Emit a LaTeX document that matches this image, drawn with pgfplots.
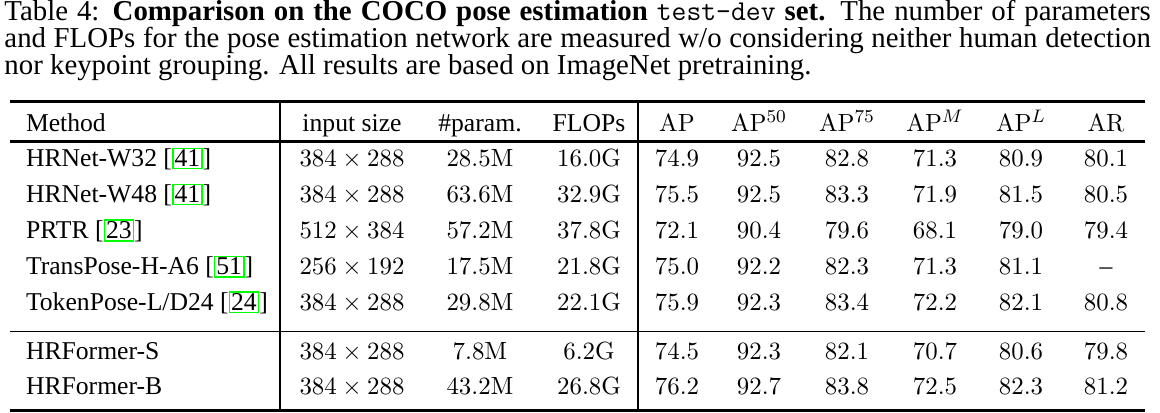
\documentclass[border=0pt]{standalone}
\usepackage[no-math]{fontspec}
\setmainfont{Liberation Serif}
\usepackage{pgfplots}
\pgfplotsset{compat=1.18}
\definecolor{citegreen}{RGB}{0,255,0}
\newcommand\tf{\fontsize{11.3}{13.5}\selectfont}
\newcommand\cf{\fontsize{12.7}{15}\selectfont}
\newcommand\cit[1]{[{\setlength\fboxsep{0.4pt}\setlength\fboxrule{0.7pt}\fcolorbox{citegreen}{white}{#1}}]}
\tikzset{cell/.style={inner sep=0pt, outer sep=0pt, font=\tf, anchor=base}}
% columns (pixel coordinates)
\def\cM{26}\def\cS{352}\def\cP{480}\def\cF{589}
\def\cA{677}\def\cAf{759}\def\cAs{847}\def\cAm{935}\def\cAl{1021}\def\cAr{1106}
\newcommand\rowA[5]{%
  \node[cell, anchor=base west] at (axis cs:\cM,#1) {#2};
  \node[cell] at (axis cs:\cS,#1) {$#3$};
  \node[cell] at (axis cs:\cP,#1) {$#4\mathrm{M}$};
  \node[cell] at (axis cs:\cF,#1) {$#5\mathrm{G}$};}
\newcommand\rowB[7]{%
  \node[cell] at (axis cs:\cA,#1) {$#2$};
  \node[cell] at (axis cs:\cAf,#1) {$#3$};
  \node[cell] at (axis cs:\cAs,#1) {$#4$};
  \node[cell] at (axis cs:\cAm,#1) {$#5$};
  \node[cell] at (axis cs:\cAl,#1) {$#6$};
  \node[cell] at (axis cs:\cAr,#1) {$#7$};}
\begin{document}
\begin{tikzpicture}
\begin{axis}[hide axis, scale only axis, width=511pt, height=181.9pt,
  xmin=0, xmax=1160, ymin=0, ymax=413, y dir=reverse, clip=false]
% caption
\node[inner sep=0pt, anchor=base west, font=\cf] at (axis cs:4,20)
  {\makebox[505pt][s]{Table 4: \textbf{Comparison on the COCO pose estimation} \texttt{test-dev} \textbf{set.} The number of parameters}};
\node[inner sep=0pt, anchor=base west, font=\cf] at (axis cs:4,47.5)
  {\makebox[505pt][s]{and FLOPs for the pose estimation network are measured w/o considering neither human detection}};
\node[inner sep=0pt, anchor=base west, font=\cf] at (axis cs:4,75)
  {nor keypoint grouping. All results are based on ImageNet pretraining.};
% rules
\addplot[black, mark=none, line width=1.3pt] coordinates {(10,101.5) (1145,101.5)};
\addplot[black, mark=none, line width=1.3pt] coordinates {(10,141.5) (1145,141.5)};
\addplot[black, mark=none, line width=0.7pt] coordinates {(10,331.5) (1145,331.5)};
\addplot[black, mark=none, line width=1.5pt] coordinates {(10,410.5) (1145,410.5)};
\addplot[black, mark=none, line width=0.5pt] coordinates {(280,101.5) (280,410.5)};
\addplot[black, mark=none, line width=0.5pt] coordinates {(638,101.5) (638,410.5)};
% header
\node[cell, anchor=base west] at (axis cs:\cM,132) {Method};
\node[cell] at (axis cs:\cS,132) {input size};
\node[cell] at (axis cs:\cP,132) {\#param.};
\node[cell] at (axis cs:\cF,132) {FLOPs};
\node[cell] at (axis cs:\cA,132) {$\mathrm{AP}$};
\node[cell] at (axis cs:\cAf,132) {$\mathrm{AP}^{50}$};
\node[cell] at (axis cs:\cAs,132) {$\mathrm{AP}^{75}$};
\node[cell] at (axis cs:\cAm,132) {$\mathrm{AP}^{M}$};
\node[cell] at (axis cs:\cAl,132) {$\mathrm{AP}^{L}$};
\node[cell] at (axis cs:\cAr,132) {$\mathrm{AR}$};
% body
\rowA{167}{HRNet-W32 \cit{41}}{384\times288}{28.5}{16.0}
\rowB{167}{74.9}{92.5}{82.8}{71.3}{80.9}{80.1}
\rowA{203}{HRNet-W48 \cit{41}}{384\times288}{63.6}{32.9}
\rowB{203}{75.5}{92.5}{83.3}{71.9}{81.5}{80.5}
\rowA{239}{PRTR \cit{23}}{512\times384}{57.2}{37.8}
\rowB{239}{72.1}{90.4}{79.6}{68.1}{79.0}{79.4}
\rowA{275}{TransPose-H-A6 \cit{51}}{256\times192}{17.5}{21.8}
\rowB{275}{75.0}{92.2}{82.3}{71.3}{81.1}{\mbox{\tf –}}
\rowA{311}{TokenPose-L/D24 \cit{24}}{384\times288}{29.8}{22.1}
\rowB{311}{75.9}{92.3}{83.4}{72.2}{82.1}{80.8}
\rowA{360}{HRFormer-S}{384\times288}{7.8}{6.2}
\rowB{360}{74.5}{92.3}{82.1}{70.7}{80.6}{79.8}
\rowA{395}{HRFormer-B}{384\times288}{43.2}{26.8}
\rowB{395}{76.2}{92.7}{83.8}{72.5}{82.3}{81.2}
\end{axis}
\pgfresetboundingbox
\useasboundingbox (current axis.south west) rectangle (current axis.north east);
\end{tikzpicture}
\end{document}
